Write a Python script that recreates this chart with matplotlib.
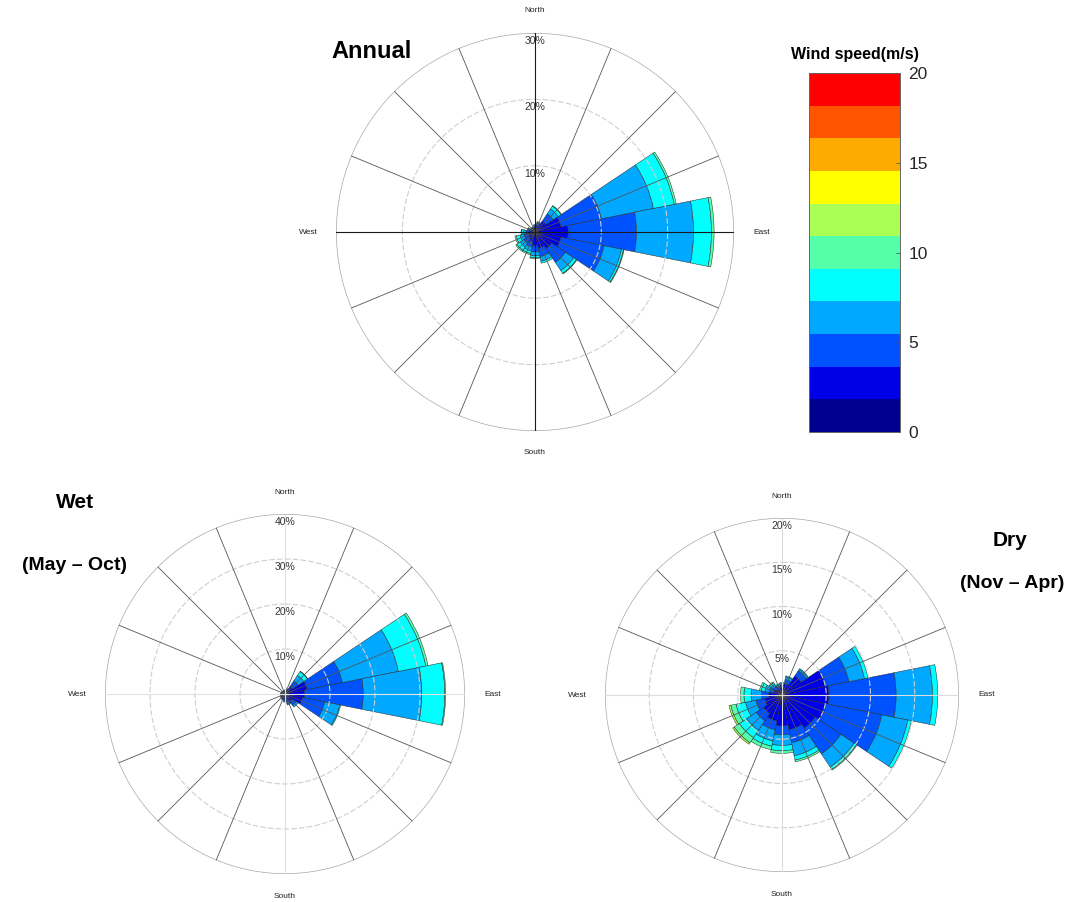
import numpy as np
import matplotlib
matplotlib.use("Agg")
import matplotlib.pyplot as plt
from matplotlib.colors import ListedColormap, BoundaryNorm
import matplotlib.cm as cm
from matplotlib.transforms import offset_copy

plt.rcParams['font.family'] = ['Liberation Sans', 'DejaVu Sans']

W, H = 1081, 902

# ---------------- data ----------------
directions = ['N', 'NNE', 'NE', 'ENE', 'E', 'ESE', 'SE', 'SSE',
              'S', 'SSW', 'SW', 'WSW', 'W', 'WNW', 'NW', 'NNW']
dir_deg = [0, 22.5, 45, 67.5, 90, 112.5, 135, 157.5,
           180, 202.5, 225, 247.5, 270, 292.5, 315, 337.5]

speed_edges = [0, 1.82, 3.64, 5.45, 7.27, 9.09, 10.91, 12.73, 14.55, 16.36, 18.18, 20]
speed_colors = ['#00008F', '#0000E8', '#0052FF', '#00A8FF', '#00FFFF', '#55FFAA',
                '#AAFF55', '#FFFF00', '#FFAA00', '#FF5500', '#FF0000']
cbar_ticks = [0, 5, 10, 15, 20]

# cumulative frequency (%) up to each speed class (rows: directions N -> NNW clockwise)
annual_cum = [
    [0.5, 0.8, 1.0, 1.1, 1.1, 1.1],
    [0.5, 1.0, 1.4, 1.6, 1.6, 1.6],
    [0.6, 2.0, 3.3, 4.2, 4.7, 4.8],
    [0.6, 4.0, 10.2, 18.2, 21.4, 21.7],
    [0.6, 5.0, 15.3, 23.9, 26.6, 27.0],
    [0.6, 4.0, 10.6, 13.3, 13.6, 13.7],
    [0.6, 3.0, 5.5, 7.0, 7.5, 7.6],
    [0.6, 2.5, 3.8, 4.5, 4.8, 4.8],
    [0.5, 2.0, 3.0, 3.6, 3.9, 4.0],
    [0.5, 1.5, 2.3, 2.9, 3.3, 3.5],
    [0.5, 1.2, 2.0, 2.7, 3.3, 3.5],
    [0.5, 1.0, 1.7, 2.3, 2.9, 3.1],
    [0.5, 0.8, 1.3, 1.7, 2.0, 2.1],
    [0.4, 0.6, 0.9, 1.1, 1.2, 1.2],
    [0.4, 0.5, 0.7, 0.8, 0.8, 0.8],
    [0.4, 0.5, 0.7, 0.8, 0.8, 0.8],
]

wet_cum = [
    [0.5, 0.7, 0.8, 0.9, 0.9, 0.9],
    [0.5, 0.8, 1.0, 1.2, 1.2, 1.2],
    [0.6, 2.0, 3.5, 5.0, 6.0, 6.1],
    [0.7, 5.0, 13.0, 25.7, 31.9, 32.4],
    [0.7, 4.4, 17.4, 30.4, 35.5, 35.7],
    [0.7, 4.0, 9.0, 12.4, 12.6, 12.6],
    [0.6, 2.0, 3.0, 3.5, 3.5, 3.5],
    [0.5, 1.5, 2.2, 2.5, 2.5, 2.5],
    [0.5, 1.2, 1.6, 1.8, 1.8, 1.8],
    [0.5, 1.0, 1.3, 1.4, 1.4, 1.4],
    [0.5, 0.8, 1.1, 1.2, 1.2, 1.2],
    [0.5, 0.8, 1.0, 1.1, 1.1, 1.1],
    [0.5, 0.7, 0.9, 1.0, 1.0, 1.0],
    [0.5, 0.6, 0.8, 0.9, 0.9, 0.9],
    [0.4, 0.5, 0.7, 0.8, 0.8, 0.8],
    [0.4, 0.5, 0.7, 0.8, 0.8, 0.8],
]

dry_cum = [
    [0.4, 0.8, 1.1, 1.3, 1.4, 1.4, 1.4],
    [0.5, 1.3, 1.8, 2.1, 2.2, 2.2, 2.2],
    [0.6, 2.6, 3.3, 3.5, 3.6, 3.6, 3.6],
    [0.6, 5.0, 7.7, 9.5, 9.9, 9.9, 9.9],
    [0.6, 5.3, 12.9, 17.0, 17.6, 17.6, 17.6],
    [0.6, 5.0, 11.5, 14.5, 14.9, 14.9, 14.9],
    [0.6, 4.5, 8.0, 9.8, 10.1, 10.2, 10.2],
    [0.6, 4.0, 5.5, 7.0, 7.5, 7.7, 7.7],
    [0.6, 3.5, 4.5, 5.7, 6.3, 6.6, 6.6],
    [0.6, 3.0, 4.0, 5.3, 5.9, 6.3, 6.3],
    [0.5, 2.5, 3.5, 4.8, 5.8, 6.5, 6.7],
    [0.5, 2.0, 3.0, 4.2, 5.3, 5.9, 6.1],
    [0.5, 1.5, 2.3, 3.5, 4.3, 4.7, 4.7],
    [0.4, 1.0, 1.5, 2.0, 2.4, 2.6, 2.6],
    [0.4, 0.8, 1.2, 1.5, 1.7, 1.8, 1.8],
    [0.4, 0.7, 1.0, 1.2, 1.3, 1.3, 1.3],
]

# ---------------- drawing ----------------
fig = plt.figure(figsize=(W / 100, H / 100), dpi=100)
fig.patch.set_facecolor('white')


def box(cx, cy, R):
    return [(cx - R) / W, 1 - (cy + R) / H, 2 * R / W, 2 * R / H]


def rose(cx, cy, R, cum, rings, axis_color, axis_lw):
    ax = fig.add_axes(box(cx, cy, R), projection='polar')
    ax.set_theta_zero_location('N')
    ax.set_theta_direction(-1)
    rmax = rings[-1]
    ax.set_ylim(0, rmax)
    ax.set_xticks([])
    ax.set_yticks([])
    ax.grid(False)
    ax.spines['polar'].set_visible(False)
    ax.patch.set_alpha(0)

    theta = np.deg2rad(dir_deg)
    width = np.deg2rad(22.5)
    cum = np.array(cum, dtype=float)
    prev = np.zeros(len(theta))
    for k in range(cum.shape[1]):
        h = cum[:, k] - prev
        m = h > 1e-9
        if m.any():
            ax.bar(theta[m], h[m], width=width, bottom=prev[m],
                   color=speed_colors[k], edgecolor='#2a2a2a',
                   linewidth=0.35, zorder=2)
        prev = np.maximum(prev, cum[:, k])

    tt = np.linspace(0, 2 * np.pi, 721)
    for r in rings[:-1]:
        ax.plot(tt, np.full_like(tt, r), color='#cfcfcf', lw=0.8,
                ls=(0, (5, 2)), zorder=3)
    ax.plot(tt, np.full_like(tt, rmax), color='#a8a8a8', lw=1.0, zorder=3)
    for d in dir_deg:
        if d % 90 == 0:
            continue
        ax.plot([np.deg2rad(d)] * 2, [0, rmax], color='#555555', lw=0.6, zorder=3)
    for d in [0, 90, 180, 270]:
        ax.plot([np.deg2rad(d)] * 2, [0, rmax], color=axis_color, lw=axis_lw, zorder=3)

    tr = offset_copy(ax.transData, fig=fig, x=0, y=-8, units='dots')
    for r in rings:
        ax.text(0, r, f'{r}%', transform=tr, ha='center', va='center',
                fontsize=7.5, color='#333333', zorder=4)

    for lab, d, off in [('North', 0, 22), ('East', 90, 28), ('South', 180, 22), ('West', 270, 28)]:
        ax.text(np.deg2rad(d), rmax * (1 + off / R), lab, ha='center', va='center',
                fontsize=6, color='#222222', clip_on=False)
    return ax


rose(535, 232, 199, annual_cum, [10, 20, 30], '#1a1a1a', 0.8)
rose(285, 694, 180, wet_cum, [10, 20, 30, 40], '#e2e2e2', 0.8)
rose(782, 695, 177, dry_cum, [5, 10, 15, 20], '#dcdcdc', 0.8)

# colorbar
cax = fig.add_axes([809 / W, 1 - 432 / H, 91 / W, 359 / H])
cmap = ListedColormap(speed_colors)
norm = BoundaryNorm(speed_edges, cmap.N)
cb = fig.colorbar(cm.ScalarMappable(norm=norm, cmap=cmap), cax=cax, ticks=cbar_ticks)
cb.ax.minorticks_off()
cb.ax.tick_params(labelsize=12.5, direction='in', length=3, width=0.6,
                  color='#555555', labelcolor='#262626', pad=6)
cb.outline.set_edgecolor('#666666')
cb.outline.set_linewidth(0.7)
cax.set_title('Wind speed(m/s)', fontsize=11.5, fontweight='bold', pad=10)

# panel titles
def ftext(x, y, s, size):
    fig.text(x / W, 1 - y / H, s, ha='center', va='center', fontsize=size,
             fontweight='bold', color='black')


ftext(372, 52, 'Annual', 17)
ftext(75, 502, 'Wet', 15)
ftext(75, 565, '(May – Oct)', 14)
ftext(1010, 540, 'Dry', 15)
ftext(1012, 583, '(Nov – Apr)', 14)

fig.savefig('out.png', dpi=100, facecolor='white')
